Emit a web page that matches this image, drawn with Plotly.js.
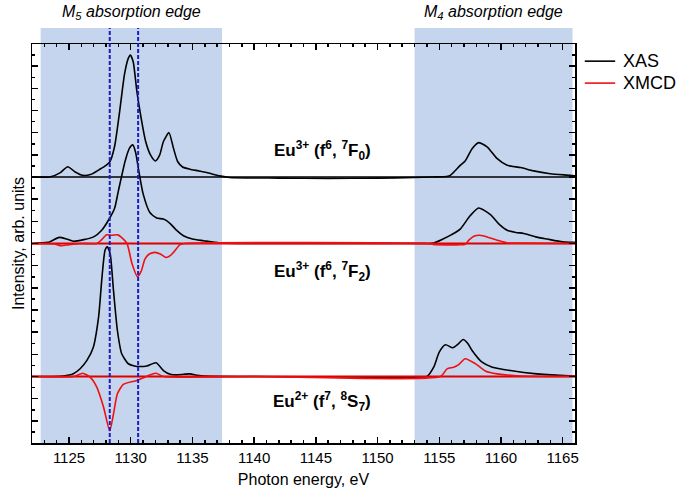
<!DOCTYPE html>
<html>
<head>
<meta charset="utf-8">
<script src="https://cdn.plot.ly/plotly-3.0.1.min.js"></script>
<style>html,body{margin:0;padding:0;background:#fff;}#chart{width:685px;height:495px;}</style>
</head>
<body>
<div id="chart"></div>
<script>
// ---- data (energies in eV, intensities relative to each curve's own baseline) ----
const offsetTop = 24;   // Eu3+ (7F0)
const offsetMid = 18;   // Eu3+ (7F2)
const offsetBot = 6;    // Eu2+ (8S7)

const xasTopE = [1122,1123.5,1124.3,1124.9,1125.5,1126.1,1126.8,1127.5,1128.0,1128.3,1128.7,1129.1,1129.5,1129.8,1129.97,1130.2,1130.5,1130.8,1131.2,1131.6,1132.0,1132.35,1132.65,1133.1,1133.45,1133.8,1134.2,1134.8,1135.5,1136.15,1137.2,1138,1142,1146,1150,1153,1154.5,1155.6,1155.9,1156.7,1157.1,1157.66,1158.2,1158.9,1159.7,1160.5,1161.6,1162.65,1164,1165.6,1166];
const xasTopI = [0,0.02,0.4,0.93,0.45,0.15,0.25,0.7,1.05,1.35,2.8,5.9,9.3,10.7,11.0,10.4,7.7,5.6,3.25,2.0,1.45,2.0,3.2,4.0,2.65,1.4,0.9,0.7,0.55,0.4,0.1,-0.05,-0.1,-0.12,-0.1,-0.05,0,0.05,0.15,1.05,1.45,2.55,3.1,2.7,1.65,1.05,0.85,0.55,0.3,0.15,0.1];

const xasMidE = [1122,1123.3,1124.2,1124.8,1125.35,1126.2,1127.0,1127.65,1128.3,1128.7,1129.0,1129.55,1129.9,1130.17,1130.4,1130.6,1131.0,1131.55,1132.1,1132.65,1133.2,1133.7,1134.27,1135.0,1135.9,1137.2,1140,1150,1153,1154.55,1155.3,1156.0,1156.7,1157.5,1158.2,1159.15,1159.8,1160.5,1161.2,1161.85,1162.8,1163.75,1165,1166];
const xasMidI = [0,0.1,0.55,0.4,0.2,0.35,0.6,1.2,2.3,3.2,4.75,7.45,8.6,8.9,8.2,6.9,4.5,2.8,2.3,2.2,1.8,1.2,0.7,0.4,0.25,0.05,0,0,0,0.05,0.4,0.8,1.3,2.5,3.2,2.6,1.8,1.2,1.0,0.9,0.6,0.4,0.15,0.1];

const xmcdMidE = [1122,1123.8,1124.4,1125.0,1126,1127.25,1127.6,1128.05,1128.5,1128.95,1129.25,1129.7,1130.1,1130.55,1130.85,1131.15,1131.5,1131.97,1132.4,1132.87,1133.2,1133.46,1134.0,1134.4,1154,1154.5,1155.5,1156.5,1157.1,1157.4,1157.8,1158.3,1159.0,1159.7,1160.5,1161.5,1166];
const xmcdMidI = [0,-0.05,-0.2,-0.1,0,0,0.3,0.78,0.75,0.78,0.55,0,-1.8,-3.0,-2.5,-1.4,-0.95,-0.8,-0.95,-1.26,-1.1,-0.8,-0.1,0,0,-0.08,-0.12,-0.12,-0.08,0.3,0.65,0.74,0.55,0.3,0.05,0.03,0];

const xasBotE = [1122,1124.5,1125.35,1125.9,1126.45,1126.97,1127.4,1127.65,1127.92,1128.1,1128.33,1128.6,1128.92,1129.27,1129.8,1130.3,1130.76,1131.3,1132.06,1132.65,1133.2,1133.73,1134.3,1134.8,1135.4,1136,1140,1148,1152,1153.5,1154.0,1154.55,1155.0,1155.5,1156.1,1156.5,1156.93,1157.3,1157.66,1158.47,1159.3,1160.76,1162.9,1165.5,1166];
const xasBotI = [0,0.05,0.25,0.7,1.45,2.65,5.4,8.7,11.4,11.7,11.1,7.8,4.15,2.05,1.15,0.95,0.9,0.95,1.24,0.54,0.2,0.15,0.2,0.24,0.1,0.03,0,-0.05,-0.08,-0.05,0,0.84,2.2,2.86,2.59,2.9,3.34,3.0,2.35,1.29,0.84,0.54,0.24,0.06,0.05];

const xmcdBotE = [1122,1125.4,1126.1,1126.7,1127.25,1127.8,1128.3,1128.6,1128.92,1129.4,1130.5,1131.15,1131.6,1132.06,1132.65,1140,1155.1,1155.63,1156.17,1156.6,1157.1,1157.95,1158.77,1159.7,1161.6,1166];
const xmcdBotI = [0,0,0.3,-0.06,-0.96,-2.77,-4.9,-3.4,-1.56,-0.72,-0.36,-0.06,0.15,0.3,0,0,0,0.69,0.84,1.1,1.6,1.14,0.48,0.24,0.05,0];

const edgeM5 = [1122.7, 1137.4];
const edgeM4 = [1153.0, 1165.8];
const markerLines = [1128.3, 1130.6];
const xRange = [1122, 1166];
const yRange = [0, 36];
const legendNames = ['XAS', 'XMCD'];
const legendColors = ['#000000', '#ee1111'];

const FONT = 'Arial, "Liberation Sans", Helvetica, sans-serif';
const shift = (arr, off) => arr.map(v => v + off);

function curve(E, I, off, color) {
  return {x: E, y: shift(I, off), type: 'scatter', mode: 'lines', showlegend: false,
          line: {color: color, width: 1.6, shape: 'spline', smoothing: 0.6}, hoverinfo: 'skip'};
}
function hline(off, color, w) {
  return {x: xRange, y: [off, off], type: 'scatter', mode: 'lines', showlegend: false,
          line: {color: color, width: w}, hoverinfo: 'skip'};
}

const traces = [
  hline(offsetTop, '#000', 1.6),
  curve(xasTopE, xasTopI, offsetTop, legendColors[0]),
  curve(xasMidE, xasMidI, offsetMid, legendColors[0]),
  hline(offsetMid, '#e00000', 2.2),
  curve(xmcdMidE, xmcdMidI, offsetMid, legendColors[1]),
  curve(xasBotE, xasBotI, offsetBot, legendColors[0]),
  hline(offsetBot, '#e00000', 2.2),
  curve(xmcdBotE, xmcdBotI, offsetBot, legendColors[1])
];

const shade = '#c5d5ed';
let shapes = [
  {type: 'rect', xref: 'x', yref: 'paper', x0: edgeM5[0], x1: edgeM5[1], y0: 0, y1: 1.04, fillcolor: shade, line: {width: 0}, layer: 'below'},
  {type: 'rect', xref: 'x', yref: 'paper', x0: edgeM4[0], x1: edgeM4[1], y0: 0, y1: 1.04, fillcolor: shade, line: {width: 0}, layer: 'below'}
].concat(markerLines.map(e => ({type: 'line', xref: 'x', yref: 'paper', x0: e, x1: e, y0: 0, y1: 1.04,
   line: {color: '#1c1cc0', width: 2, dash: '4px,2px'}, layer: 'above'})));

// manual legend (line sample + label)
const legY = [0.957, 0.902];
legendNames.forEach((n, i) => {
  shapes.push({type: 'line', xref: 'paper', yref: 'paper', x0: 1.018, x1: 1.074, y0: legY[i], y1: legY[i],
               line: {color: legendColors[i], width: 1.6}});
});

let annotations = [
  {text: '<i>M<sub>5</sub> absorption edge</i>', xref: 'x', yref: 'paper', x: (edgeM5[0]+edgeM5[1])/2, y: 1.08, yanchor: 'middle', showarrow: false, font: {family: FONT, size: 16, color: '#000'}},
  {text: '<i>M<sub>4</sub> absorption edge</i>', xref: 'x', yref: 'paper', x: (edgeM4[0]+edgeM4[1])/2, y: 1.08, yanchor: 'middle', showarrow: false, font: {family: FONT, size: 16, color: '#000'}},
  {text: '<b>Eu<sup>3+</sup> (f<sup>6</sup>, <sup>7</sup>F<sub>0</sub>)</b>', xref: 'x', yref: 'y', x: 1145.5, y: 26.4, showarrow: false, font: {family: FONT, size: 17, color: '#000'}},
  {text: '<b>Eu<sup>3+</sup> (f<sup>6</sup>, <sup>7</sup>F<sub>2</sub>)</b>', xref: 'x', yref: 'y', x: 1145.5, y: 15.5, showarrow: false, font: {family: FONT, size: 17, color: '#000'}},
  {text: '<b>Eu<sup>2+</sup> (f<sup>7</sup>, <sup>8</sup>S<sub>7</sub>)</b>', xref: 'x', yref: 'y', x: 1145.5, y: 3.7, showarrow: false, font: {family: FONT, size: 17, color: '#000'}}
];
legendNames.forEach((n, i) => {
  annotations.push({text: n, xref: 'paper', yref: 'paper', x: 1.085, y: legY[i], xanchor: 'left', yanchor: 'middle',
                    showarrow: false, font: {family: FONT, size: 18, color: '#000'}});
});

const layout = {
  width: 685, height: 495,
  margin: {l: 32, r: 110, t: 44, b: 52},
  paper_bgcolor: '#fff', plot_bgcolor: '#fff',
  font: {family: FONT, color: '#000'},
  showlegend: false,
  xaxis: {range: xRange, showgrid: false, zeroline: false, showline: true, linecolor: '#000', linewidth: 1.5,
          mirror: 'ticks', ticks: 'inside', ticklen: 6, tickwidth: 1.5, tickcolor: '#000', dtick: 5, tick0: 1125,
          minor: {ticks: 'inside', ticklen: 3, tickwidth: 1.5, tickcolor: '#000', dtick: 1, showgrid: false},
          tickfont: {family: FONT, size: 15, color: '#000'},
          title: {text: 'Photon energy, eV', font: {family: FONT, size: 16, color: '#000'}, standoff: 9}},
  yaxis: {range: yRange, showgrid: false, zeroline: false, showline: true, linecolor: '#000', linewidth: 1.5,
          mirror: 'ticks', ticks: 'inside', ticklen: 6, tickwidth: 1.5, tickcolor: '#000', dtick: 2, tick0: 0,
          minor: {ticks: 'inside', ticklen: 3, tickwidth: 1.5, tickcolor: '#000', dtick: 1, showgrid: false},
          showticklabels: false,
          title: {text: 'Intensity, arb. units', font: {family: FONT, size: 16, color: '#000'}, standoff: 2}},
  shapes: shapes,
  annotations: annotations
};

Plotly.newPlot('chart', traces, layout, {displayModeBar: false, staticPlot: true});
</script>
</body>
</html>
